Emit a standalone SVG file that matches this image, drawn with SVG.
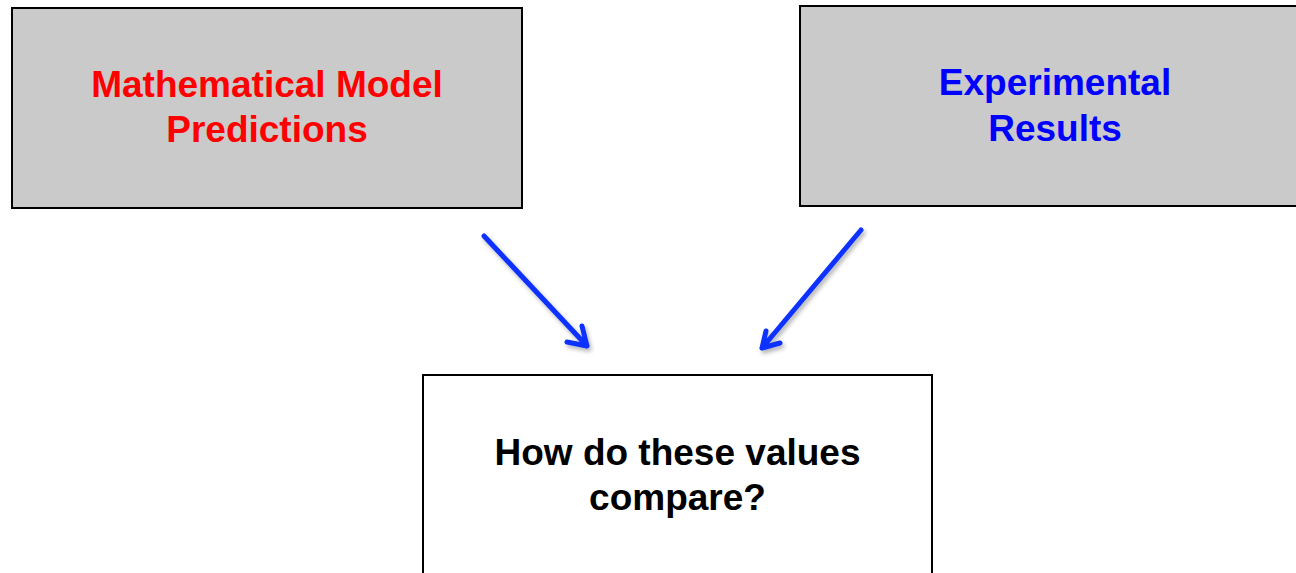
<svg xmlns="http://www.w3.org/2000/svg" width="1296" height="573" viewBox="0 0 1296 573">
<defs>
<style>
.box{stroke:#000;stroke-width:2}
.gray{fill:#cacaca}
.white{fill:#fff}
.t{font-family:"Liberation Sans",Arial,sans-serif;font-weight:bold;font-size:37px;text-anchor:middle}
.arrow{fill:none;stroke:#0f30ff;stroke-width:5;stroke-linecap:round;stroke-linejoin:round}
</style>
<filter id="sh" x="-20%" y="-20%" width="140%" height="140%">
<feDropShadow dx="2" dy="3" stdDeviation="2" flood-color="#000" flood-opacity="0.3"/>
</filter>
</defs>
<rect width="1296" height="573" fill="#fff"/>
<g id="node-model">
<rect class="box gray" x="12" y="8" width="510" height="200"/>
<text class="t" fill="#ff0000" x="267" y="97">Mathematical Model</text>
<text class="t" fill="#ff0000" x="267" y="142">Predictions</text>
</g>
<g id="node-experiment">
<rect class="box gray" x="800" y="6" width="510" height="200"/>
<text class="t" fill="#0000ff" x="1055" y="95">Experimental</text>
<text class="t" fill="#0000ff" x="1055" y="141">Results</text>
</g>
<g id="node-compare">
<rect class="box white" x="423" y="375" width="509" height="220"/>
<text class="t" fill="#000" x="677.5" y="465">How do these values</text>
<text class="t" fill="#000" x="677.5" y="510">compare?</text>
</g>
<g id="connectors" filter="url(#sh)">
<path class="arrow" d="M484 236 L587 346 M582 326 L587 346 L567 342"/>
<path class="arrow" d="M861 230 L762 348 M766 331 L762 348 L780 343"/>
</g>
</svg>
